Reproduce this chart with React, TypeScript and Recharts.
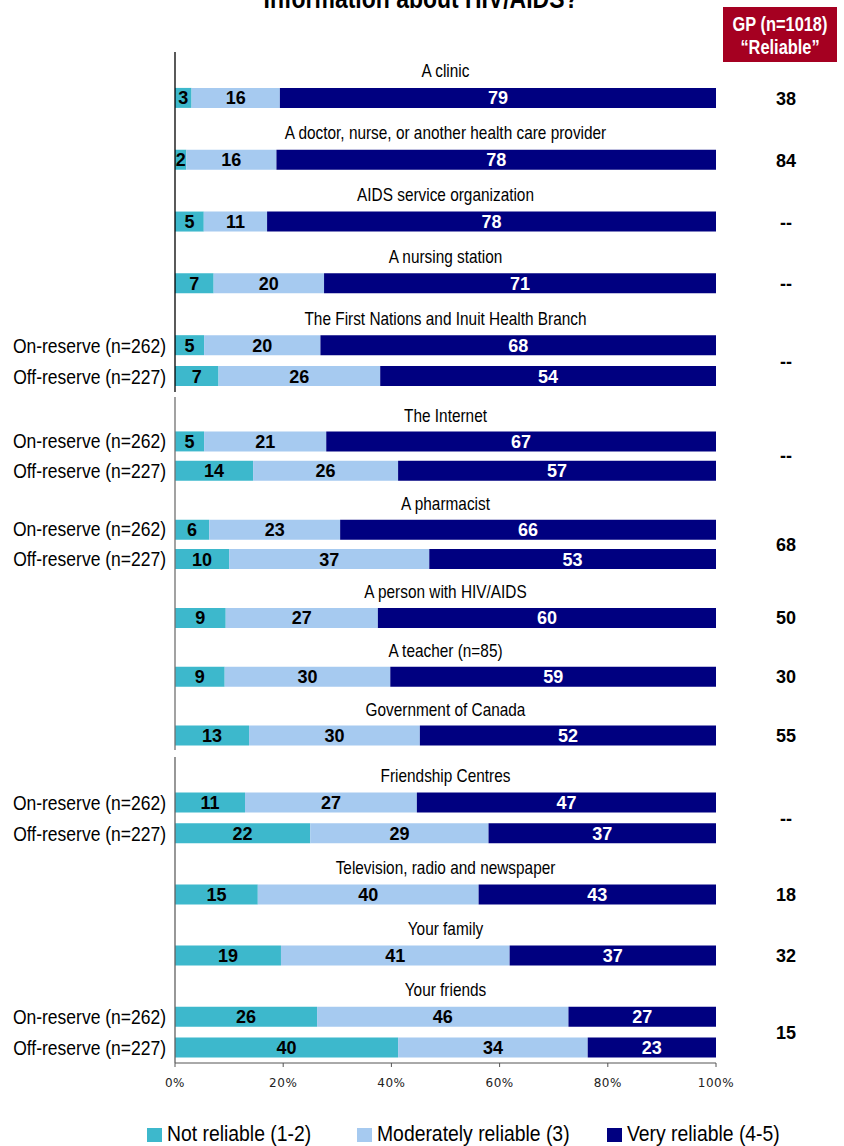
import React from 'react';
import { BarChart, Bar, XAxis, YAxis, LabelList } from 'recharts';

// ---------- data ----------
const SOURCES = [
  'A clinic',
  'A doctor, nurse, or another health care provider',
  'AIDS service organization',
  'A nursing station',
  'The First Nations and Inuit Health Branch',
  'The Internet',
  'A pharmacist',
  'A person with HIV/AIDS',
  'A teacher (n=85)',
  'Government of Canada',
  'Friendship Centres',
  'Television, radio and newspaper',
  'Your family',
  'Your friends',
];
const SUB_LABELS = ['On-reserve (n=262)', 'Off-reserve (n=227)'];
const NOT_RELIABLE = [[3], [2], [5], [7], [5, 7], [5, 14], [6, 10], [9], [9], [13], [11, 22], [15], [19], [26, 40]];
const MODERATELY = [[16], [16], [11], [20], [20, 26], [21, 26], [23, 37], [27], [30], [30], [27, 29], [40], [41], [46, 34]];
const VERY = [[79], [78], [78], [71], [68, 54], [67, 57], [66, 53], [60], [59], [52], [47, 37], [43], [37], [27, 23]];
const GP_RELIABLE = ['38', '84', '--', '--', '--', '--', '68', '50', '30', '55', '--', '18', '32', '15'];
const SERIES_NAMES = ['Not reliable (1-2)', 'Moderately reliable (3)', 'Very reliable (4-5)'];
const X_TICKS = [0, 0.2, 0.4, 0.6, 0.8, 1];
const X_TICK_LABELS = ['0%', '20%', '40%', '60%', '80%', '100%'];
const PANEL_ITEMS = [[0, 5], [5, 10], [10, 14]];
const TITLE = 'Information about HIV/AIDS?';
const GP_HEADER = ['GP (n=1018)', '\u201CReliable\u201D'];

// ---------- styles ----------
const TEAL = '#3DB8CC';
const LIGHT = '#A6CAF0';
const NAVY = '#000080';
const RED = '#A50021';
const SERIES_COLORS = [TEAL, LIGHT, NAVY];
const ARIAL = "'Liberation Sans', Arial, sans-serif";
const NARROW = 0.82;
const W = 844;
const YAXIS_W = 175;
const PLOT_RIGHT = 716;
const PLOT_CX = (YAXIS_W + PLOT_RIGHT) / 2;
const GP_X = 786;
const PANELS = [
  { top: 52, plotH: 340, axis: '#000000', showX: false },
  { top: 397, plotH: 353, axis: '#707070', showX: false },
  { top: 757, plotH: 306, axis: '#606060', showX: true },
];
const LEGEND_X = [147, 357, 607];

type Row = {
  id: string;
  kind: 'head' | 'bar';
  label: string;
  a: number;
  b: number;
  c: number;
  gp?: string;
  pair?: boolean;
};

function buildRows(start: number, end: number): Row[] {
  const rows: Row[] = [];
  for (let i = start; i < end; i++) {
    rows.push({ id: `h${i}`, kind: 'head', label: SOURCES[i], a: 0, b: 0, c: 0 });
    const n = NOT_RELIABLE[i].length;
    for (let j = 0; j < n; j++) {
      rows.push({
        id: `b${i}_${j}`,
        kind: 'bar',
        label: n > 1 ? SUB_LABELS[j] : '',
        a: NOT_RELIABLE[i][j],
        b: MODERATELY[i][j],
        c: VERY[i][j],
        gp: j === 0 ? GP_RELIABLE[i] : undefined,
        pair: n > 1,
      });
    }
  }
  return rows;
}

const NText = ({ x, y, size, anchor = 'start', bold = false, fill = '#000', sx = NARROW, children }: any) => (
  <text
    transform={`translate(${x} ${y}) scale(${sx} 1)`}
    textAnchor={anchor}
    fontFamily={ARIAL}
    fontSize={size}
    fontWeight={bold ? 700 : 400}
    fill={fill}
  >
    {children}
  </text>
);

const valueLabel = (color: string) => (p: any) => {
  const v = Number(p.value);
  if (!v) return null;
  const x = Number(p.x);
  const y = Number(p.y);
  const w = Number(p.width);
  const h = Number(p.height);
  return (
    <text
      x={x + w / 2}
      y={y + h / 2 + 6.5}
      textAnchor="middle"
      fontFamily={ARIAL}
      fontWeight={700}
      fontSize={18}
      fill={color}
    >
      {v}
    </text>
  );
};

function Panel({ rows, top, plotH, axis, showX }: any) {
  const xh = showX ? 40 : 0;
  const rowH = plotH / rows.length;
  const tick = (props: any) => {
    const y = Number(props.y);
    const row: Row | undefined = rows.find((r: Row) => r.id === props.payload?.value);
    if (!row) return <g />;
    if (row.kind === 'head') {
      return (
        <g>
          <NText x={PLOT_CX} y={y + 3 + 6.8} size={18} anchor="middle" sx={0.855}>
            {row.label}
          </NText>
        </g>
      );
    }
    return (
      <g>
        {row.label ? (
          <NText x={166} y={y + 7} size={20} anchor="end" sx={0.875}>
            {row.label}
          </NText>
        ) : null}
        {row.gp ? (
          <text
            x={GP_X}
            y={y + (row.pair ? rowH / 2 : 0) + 6.5}
            textAnchor="middle"
            fontFamily={ARIAL}
            fontWeight={700}
            fontSize={18}
            fill="#000"
          >
            {row.gp}
          </text>
        ) : null}
      </g>
    );
  };
  return (
    <div style={{ position: 'absolute', left: 0, top }}>
      <BarChart
        width={W}
        height={plotH + xh}
        data={rows}
        layout="vertical"
        stackOffset="expand"
        margin={{ top: 0, right: W - PLOT_RIGHT, bottom: 0, left: 0 }}
      >
        <XAxis
          type="number"
          domain={[0, 1]}
          ticks={X_TICKS}
          hide={!showX}
          height={xh || 30}
          tickFormatter={(v: number, i: number) => X_TICK_LABELS[i] ?? `${Math.round(v * 100)}%`}
          axisLine={{ stroke: '#555' }}
          tickLine={{ stroke: '#555' }}
          tickSize={4}
          tickMargin={11}
          tick={{ fontFamily: "'DejaVu Sans', Verdana, sans-serif", fontSize: 12, fill: '#222', letterSpacing: 0.5 }}
        />
        <YAxis
          type="category"
          dataKey="id"
          width={YAXIS_W}
          interval={0}
          tickLine={false}
          axisLine={{ stroke: axis, strokeWidth: 1.3 }}
          tick={tick}
        />
        <Bar dataKey="a" stackId="s" fill={TEAL} barSize={20} isAnimationActive={false}>
          <LabelList dataKey="a" content={valueLabel('#000')} />
        </Bar>
        <Bar dataKey="b" stackId="s" fill={LIGHT} barSize={20} isAnimationActive={false}>
          <LabelList dataKey="b" content={valueLabel('#000')} />
        </Bar>
        <Bar dataKey="c" stackId="s" fill={NAVY} barSize={20} isAnimationActive={false}>
          <LabelList dataKey="c" content={valueLabel('#fff')} />
        </Bar>
      </BarChart>
    </div>
  );
}

export default function App() {
  return (
    <div style={{ position: 'absolute', left: 0, top: 0, width: W, height: 1146, background: '#fff', overflow: 'hidden' }}>
      <svg width={W} height={70} style={{ position: 'absolute', left: 0, top: 0 }}>
        <NText x={421} y={8} size={28} anchor="middle" bold>
          {TITLE}
        </NText>
        <rect x={723} y={7} width={114} height={55} fill={RED} />
        <NText x={780} y={31} size={20} anchor="middle" bold fill="#fff">
          {GP_HEADER[0]}
        </NText>
        <NText x={780} y={54} size={20} anchor="middle" bold fill="#fff">
          {GP_HEADER[1]}
        </NText>
      </svg>
      {PANELS.map((p, k) => (
        <Panel
          key={k}
          rows={buildRows(PANEL_ITEMS[k][0], PANEL_ITEMS[k][1])}
          top={p.top}
          plotH={p.plotH}
          axis={p.axis}
          showX={p.showX}
        />
      ))}
      <svg width={W} height={40} style={{ position: 'absolute', left: 0, top: 1112 }}>
        {SERIES_NAMES.map((name, i) => (
          <g key={name}>
            <rect x={LEGEND_X[i]} y={16} width={15} height={14} fill={SERIES_COLORS[i]} />
            <NText x={LEGEND_X[i] + 20} y={29} size={22} sx={0.88}>
              {name}
            </NText>
          </g>
        ))}
      </svg>
    </div>
  );
}
